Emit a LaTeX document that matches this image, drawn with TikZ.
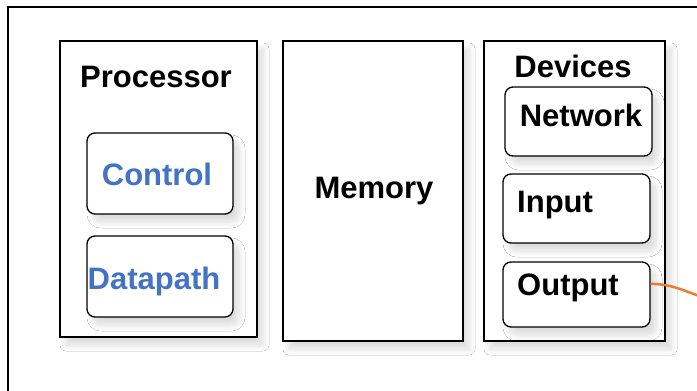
\documentclass[tikz,border=0pt]{standalone}
\usepackage{fontspec}
\setmainfont{Liberation Sans}
\usetikzlibrary{shadows.blur,calc}
\definecolor{ctlblue}{HTML}{4472C4}
\definecolor{linkorange}{HTML}{ED7D31}
\begin{document}
\begin{tikzpicture}[x=1pt,y=-1pt,
  frame/.style={draw=black,line width=1.3pt,fill=white,inner sep=0pt,
    blur shadow={shadow xshift=6pt,shadow yshift=-8pt,shadow blur radius=6pt,shadow blur steps=12,shadow opacity=14}},
  unitbox/.style={frame},
  subbox/.style={frame,rounded corners=8pt},
  lbl/.style={font=\fontsize{31}{36}\selectfont\bfseries,inner sep=0pt,text=black},
  bluelbl/.style={lbl,text=ctlblue}]
\useasboundingbox (0,0) rectangle (697,391);
\begin{scope}
\clip (0,0) rectangle (697,391);
\draw[line width=1.5pt,fill=white] (8,7) rectangle (720,420);
\node[unitbox,minimum width=197pt,minimum height=296pt] (proc) at (158.5,189) {};
\node[unitbox,minimum width=180pt,minimum height=300pt] (mem) at (373,191) {};
\node[unitbox,minimum width=181pt,minimum height=300pt] (dev) at (574.5,191) {};
\node[subbox,minimum width=146pt,minimum height=81pt] (ctrl) at (160,173.5) {};
\node[subbox,minimum width=146pt,minimum height=81pt] (dp) at (160,276.5) {};
\node[subbox,minimum width=147pt,minimum height=69pt] (net) at (578.5,121.5) {};
\node[subbox,minimum width=147pt,minimum height=69pt] (inp) at (576.5,208.5) {};
\node[subbox,minimum width=147pt,minimum height=65pt] (outb) at (576.5,294.5) {};
\node[lbl] (proct) at (156,77) {Processor};
\node[lbl] (memt) at (374,191) {Memory};
\node[lbl] (devt) at (573,66) {Devices};
\node[bluelbl] (ctrlt) at (157,174) {Control};
\node[bluelbl] (dpt) at (154,281) {Datapath};
\node[lbl] (nett) at (581,115) {Network};
\node[lbl,anchor=west] (inpt) at (517,205) {Input};
\node[lbl,anchor=west] (outt) at (517,288) {Output};
\coordinate (outport) at ($(outb.north east)!0.34!(outb.south east)$);
\coordinate (offedge) at (712,300);
\draw[linkorange,line width=2.5pt] (outport) to[out=0,in=165] (offedge);
\end{scope}
\end{tikzpicture}
\end{document}
